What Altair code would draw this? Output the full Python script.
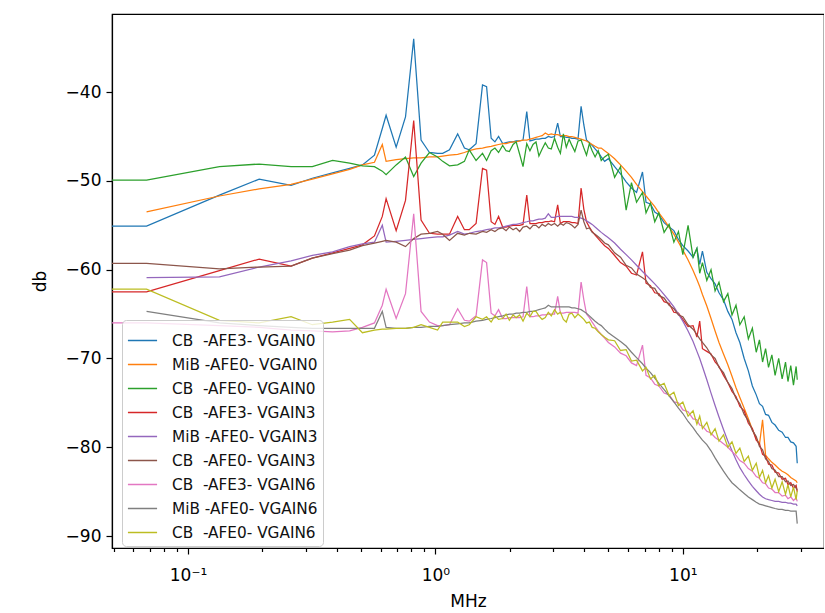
import altair as alt
import pandas as pd

# ---------------- data ----------------
freq_mhz = [
    0.049, 0.068, 0.134, 0.194, 0.261, 0.318, 0.384, 0.45, 0.507, 0.567, 0.61,
    0.632, 0.694, 0.757, 0.817, 0.875, 0.946, 1.02, 1.07, 1.14, 1.23, 1.31,
    1.37, 1.46, 1.55, 1.61, 1.68, 1.74, 1.80, 1.87, 1.93, 1.99,
    2.06, 2.12, 2.19, 2.26, 2.34, 2.41, 2.48, 2.55, 2.62, 2.70,
    2.78, 2.86, 2.94, 3.03, 3.12, 3.20, 3.29, 3.38, 3.47, 3.56,
    3.66, 3.77, 3.88, 3.98, 4.08, 4.19, 4.30, 4.42, 4.55, 4.68, 4.83,
    5.0, 5.3, 5.6, 5.9, 6.2, 6.5, 6.87, 7.1, 7.4, 7.7,
    8.0, 8.4, 8.8, 9.2, 9.6, 10.0, 10.5, 11.0, 11.4, 11.7,
    12.0, 12.5, 13.0, 13.5, 14.0, 14.6, 15.2, 15.8, 16.4, 17.0,
    17.7, 18.4, 19.1, 19.8, 20.4, 21.0, 21.6, 22.2, 22.9, 23.6,
    24.4, 25.2, 26.0, 26.6, 27.3, 28.0, 28.7, 29.0,
]

series_names = [
    "CB\u00a0\u00a0-AFE3- VGAIN0",
    "MiB -AFE0- VGAIN0",
    "CB\u00a0\u00a0-AFE0- VGAIN0",
    "CB\u00a0\u00a0-AFE3- VGAIN3",
    "MiB -AFE0- VGAIN3",
    "CB\u00a0\u00a0-AFE0- VGAIN3",
    "CB\u00a0\u00a0-AFE3- VGAIN6",
    "MiB -AFE0- VGAIN6",
    "CB\u00a0\u00a0-AFE0- VGAIN6",
]

series_colors = ["#1f77b4", "#ff7f0e", "#2ca02c", "#d62728", "#9467bd",
                 "#8c564b", "#e377c2", "#7f7f7f", "#bcbd22"]

db_cb_afe3_vgain0 = [
    -55.1, -55.1, -51.6, -49.8, -50.5, -49.7, -49.1, -48.6, -48.2, -47.1, -44.1,
    -42.6, -46.2, -42.8, -34.0, -45.4, -46.8, -46.9, -46.9, -46.5, -44.7, -46.3,
    -46.5, -45.8, -39.2, -39.4, -45.2, -45.6, -45.0, -45.8, -45.7, -45.6,
    -45.6, -45.5, -45.5, -45.4, -42.2, -45.5, -45.4, -45.3, -45.3, -45.2,
    -45.2, -45.0, -45.1, -45.0, -43.5, -45.0, -45.0, -45.1, -45.1, -45.2,
    -45.2, -45.3, -41.6, -43.7, -45.4, -45.7, -46.0, -46.4, -46.8, -47.3, -47.8,
    -47.5, -48.4, -49.2, -50.1, -50.8, -51.3, -49.0, -52.4, -52.6, -53.5,
    -53.8, -54.7, -55.2, -55.6, -56.6, -57.3, -57.9, -58.6, -57.6, -59.4,
    -57.9, -60.3, -61.0, -61.6, -62.6, -63.4, -64.7, -65.6, -67.1, -68.2,
    -70.0, -71.4, -73.1, -74.1, -75.1, -75.4, -76.3, -76.4, -77.2, -77.5,
    -78.1, -78.3, -78.9, -78.9, -79.4, -79.5, -79.9, -81.8,
]

db_mib_afe0_vgain0 = [
    None, -53.5, -51.7, -50.9, -50.4, -49.8, -49.2, -48.7, -48.2, -47.9, -45.9,
    -47.8, -47.6, -47.5, -47.4, -47.4, -47.3, -47.3, -47.2, -47.1, -47.0, -46.8,
    -46.6, -46.4, -46.3, -46.2, -46.1, -46.0, -45.9, -45.8, -45.8, -45.7,
    -45.6, -45.6, -45.5, -45.4, -45.4, -45.3, -45.2, -45.1, -45.0, -44.9,
    -44.6, -44.8, -44.7, -44.8, -44.8, -44.9, -44.9, -44.9, -45.0, -45.0,
    -45.1, -45.2, -45.3, -45.4, -45.5, -45.7, -45.9, -46.1, -46.3, -46.3, -46.6,
    -46.9, -47.5, -48.2, -48.9, -49.6, -50.4, -51.2, -51.7, -52.3, -52.9,
    -53.6, -54.4, -55.2, -56.0, -56.9, -57.8, -58.9, -60.1, -61.1, -61.9,
    -62.8, -64.1, -65.5, -66.9, -68.2, -69.5, -70.7, -72.0, -73.3, -74.4,
    -75.6, -76.8, -78.0, -79.0, -79.7, -76.9, -80.9, -81.3, -81.7, -82.0,
    -82.4, -82.7, -82.9, -83.1, -83.4, -83.6, -83.8, -84.0,
]

db_cb_afe0_vgain0 = [
    -49.9, -49.9, -48.4, -48.1, -48.4, -48.4, -47.7, -48.0, -48.3, -48.4, -48.9,
    -49.3, -48.2, -47.3, -49.5, -48.0, -46.8, -47.3, -47.8, -48.3, -48.2, -47.8,
    -46.5, -47.7, -46.9, -47.7, -46.6, -46.3, -46.8, -46.0, -46.6, -46.7,
    -45.9, -45.6, -47.0, -48.4, -45.8, -46.6, -45.9, -45.6, -47.2, -46.4,
    -45.7, -46.3, -46.4, -45.2, -46.2, -46.9, -44.7, -46.2, -45.3, -46.0,
    -46.7, -45.5, -45.4, -46.3, -47.1, -45.8, -46.6, -47.3, -46.6, -47.7, -47.3,
    -47.0, -49.6, -48.4, -53.3, -50.2, -52.4, -51.3, -53.6, -52.5, -54.6,
    -53.6, -55.8, -54.9, -56.9, -55.7, -58.3, -55.0, -58.6, -57.6, -60.4,
    -59.2, -61.2, -60.0, -62.4, -61.4, -63.6, -62.7, -65.1, -64.0, -66.2,
    -65.3, -67.8, -66.6, -69.3, -67.9, -70.4, -68.9, -71.0, -69.6, -71.9,
    -70.0, -72.3, -70.4, -72.6, -70.8, -73.0, -70.9, -72.4,
]

db_cb_afe3_vgain3 = [
    -62.5, -62.5, -60.1, -58.8, -59.6, -58.7, -58.1, -57.6, -57.2, -56.2, -54.0,
    -52.0, -55.6, -52.2, -43.2, -54.4, -55.9, -56.0, -56.0, -56.0, -54.0, -55.5,
    -55.5, -54.8, -48.6, -48.8, -54.6, -54.9, -54.0, -55.2, -55.2, -55.1,
    -55.0, -55.0, -55.0, -54.9, -51.6, -54.8, -54.8, -54.8, -54.7, -54.7,
    -54.6, -54.6, -54.5, -54.6, -52.7, -54.8, -54.6, -54.6, -54.6, -54.7,
    -54.7, -54.8, -50.8, -53.2, -54.6, -55.2, -55.7, -56.1, -56.5, -56.9, -57.3,
    -57.6, -58.4, -59.2, -59.6, -60.4, -60.6, -58.0, -61.5, -61.8, -62.6,
    -62.7, -63.6, -63.8, -64.8, -64.9, -65.6, -66.4, -66.3, -67.6, -65.8,
    -68.9, -69.2, -69.5, -70.4, -70.9, -71.9, -72.7, -73.7, -74.3, -75.4,
    -75.9, -77.3, -77.9, -79.2, -79.6, -80.8, -81.0, -81.9, -82.0, -82.8,
    -82.9, -83.6, -83.5, -84.2, -84.0, -84.6, -84.3, -85.0,
]

db_mib_afe0_vgain3 = [
    None, -60.9, -60.8, -59.7, -59.0, -58.4, -58.0, -57.4, -57.1, -56.9, -55.0,
    -56.9, -56.8, -56.7, -56.6, -56.5, -56.4, -56.3, -56.3, -56.1, -55.7, -56.0,
    -55.9, -55.7, -55.6, -55.5, -55.4, -55.3, -55.3, -55.2, -55.1, -55.0,
    -54.9, -54.9, -54.8, -54.7, -54.6, -54.5, -54.5, -54.4, -54.3, -54.3,
    -54.2, -53.7, -54.1, -54.1, -54.0, -54.0, -54.0, -54.0, -54.0, -54.0,
    -54.1, -54.1, -54.2, -54.3, -54.5, -54.7, -54.9, -55.2, -55.5, -55.8, -56.1,
    -56.4, -57.0, -57.7, -58.3, -58.9, -59.5, -60.2, -60.6, -61.1, -61.6,
    -62.1, -62.8, -63.5, -64.2, -65.0, -65.8, -66.9, -68.1, -69.2, -70.0,
    -70.9, -72.4, -73.9, -75.3, -76.6, -78.0, -79.3, -80.4, -81.4, -82.3,
    -83.1, -83.8, -84.4, -84.9, -85.3, -85.6, -85.8, -85.9, -86.0, -86.1,
    -86.1, -86.2, -86.2, -86.3, -86.3, -86.4, -86.4, -86.6,
]

db_cb_afe0_vgain3 = [
    -59.3, -59.3, -59.9, -59.7, -59.6, -58.7, -58.2, -57.8, -57.3, -57.0, -56.8,
    -56.7, -56.9, -57.4, -56.5, -56.0, -55.9, -55.7, -56.0, -56.7, -55.9, -56.1,
    -55.9, -56.0, -55.7, -55.8, -55.5, -55.7, -55.4, -55.3, -55.6, -55.2,
    -55.5, -55.3, -55.7, -55.2, -55.1, -55.4, -55.0, -55.0, -55.3, -54.9,
    -55.1, -54.8, -55.0, -54.8, -55.1, -54.8, -55.0, -54.7, -54.8, -55.0,
    -55.3, -54.9, -53.3, -54.6, -55.4, -55.3, -55.8, -56.0, -56.3, -56.6, -57.0,
    -57.2, -58.1, -58.6, -59.5, -59.8, -60.5, -60.9, -61.2, -62.0, -62.1,
    -62.9, -63.2, -64.0, -64.4, -65.1, -65.3, -66.2, -66.7, -67.3, -67.8,
    -68.2, -68.8, -69.6, -70.0, -71.0, -71.6, -72.7, -73.4, -74.5, -75.1,
    -76.3, -77.0, -78.1, -78.8, -79.9, -80.3, -81.3, -81.6, -82.4, -82.6,
    -83.3, -83.3, -83.9, -83.8, -84.3, -84.2, -84.6, -84.8,
]

db_cb_afe3_vgain6 = [
    -66.0, -66.0, -66.3, -66.5, -66.8, -66.9, -67.0, -66.9, -66.5, -66.0, -64.0,
    -62.2, -65.5, -62.7, -53.7, -64.7, -65.9, -66.3, -66.3, -66.2, -64.4, -65.7,
    -65.8, -65.2, -58.9, -59.2, -64.9, -65.2, -64.5, -65.5, -65.5, -65.4,
    -65.4, -65.4, -65.4, -65.3, -61.9, -65.3, -65.3, -65.2, -65.2, -65.1,
    -65.1, -65.0, -65.0, -65.0, -63.0, -64.9, -64.9, -64.8, -64.8, -64.8,
    -64.8, -64.9, -61.4, -63.4, -65.0, -65.4, -65.9, -66.4, -66.9, -67.3, -67.7,
    -68.2, -68.7, -69.4, -69.7, -70.5, -70.8, -68.5, -71.9, -72.2, -72.9,
    -73.1, -73.9, -74.1, -74.9, -75.0, -75.8, -76.0, -76.8, -76.9, -77.5,
    -77.6, -78.2, -78.4, -78.9, -79.2, -79.6, -80.0, -80.5, -80.9, -81.5,
    -81.8, -82.4, -82.7, -83.3, -83.5, -84.0, -84.1, -84.6, -84.7, -85.1,
    -85.1, -85.5, -85.4, -85.8, -85.6, -86.0, -85.7, -86.1,
]

db_mib_afe0_vgain6 = [
    None, -64.7, -66.0, -66.3, -66.5, -66.6, -66.6, -66.6, -66.6, -66.6, -64.7,
    -66.5, -66.6, -66.6, -66.5, -66.5, -66.4, -66.4, -66.3, -66.2, -66.1, -66.0,
    -66.0, -65.8, -65.7, -65.6, -65.5, -65.4, -65.3, -65.2, -65.1, -65.0,
    -65.0, -64.9, -64.9, -64.8, -64.8, -64.7, -64.7, -64.6, -64.5, -64.4,
    -64.3, -64.0, -64.2, -64.2, -64.2, -64.2, -64.2, -64.2, -64.2, -64.3,
    -64.3, -64.4, -64.5, -64.7, -64.9, -65.2, -65.5, -65.8, -66.1, -66.3, -66.7,
    -67.1, -67.6, -68.1, -68.6, -69.3, -69.9, -70.6, -71.1, -71.6, -72.2,
    -72.8, -73.5, -74.2, -74.9, -75.6, -76.2, -77.1, -77.8, -78.4, -78.8,
    -79.2, -79.7, -80.4, -81.2, -81.9, -82.7, -83.4, -84.0, -84.4, -84.8,
    -85.2, -85.6, -85.9, -86.2, -86.4, -86.5, -86.6, -86.7, -86.8, -86.9,
    -87.0, -87.0, -87.1, -87.1, -87.2, -87.2, -87.2, -88.6,
]

db_cb_afe0_vgain6 = [
    -62.2, -62.2, -65.7, -66.0, -65.3, -66.2, -65.9, -65.6, -67.1, -66.8, -66.7,
    -66.7, -66.6, -66.6, -66.5, -66.2, -66.5, -66.8, -65.9, -65.9, -65.9, -66.4,
    -66.2, -65.3, -65.6, -65.3, -65.9, -65.2, -65.6, -65.5, -65.0, -65.7,
    -65.1, -65.4, -65.1, -65.8, -64.9, -65.3, -64.7, -64.7, -65.2, -65.6,
    -65.4, -64.8, -65.2, -64.5, -65.0, -64.8, -65.6, -65.9, -65.0, -64.9,
    -65.4, -65.0, -65.3, -65.6, -66.0, -65.9, -66.5, -66.6, -67.0, -67.3, -67.6,
    -67.9, -68.0, -69.1, -69.0, -70.3, -70.2, -71.4, -71.0, -72.3, -71.9,
    -73.1, -72.8, -74.2, -73.8, -75.3, -74.9, -76.5, -75.9, -77.4, -76.5,
    -77.9, -77.2, -78.6, -77.9, -79.3, -78.6, -80.0, -79.4, -80.7, -80.1,
    -81.6, -81.0, -82.6, -81.8, -83.4, -82.6, -84.0, -83.2, -84.6, -83.6,
    -85.0, -83.9, -85.3, -84.2, -85.6, -84.5, -85.9, -84.9,
]

series_values = [
    db_cb_afe3_vgain0, db_mib_afe0_vgain0, db_cb_afe0_vgain0,
    db_cb_afe3_vgain3, db_mib_afe0_vgain3, db_cb_afe0_vgain3,
    db_cb_afe3_vgain6, db_mib_afe0_vgain6, db_cb_afe0_vgain6,
]

major_ticks = [0.1, 1, 10]
minor_ticks = [0.05, 0.06, 0.07, 0.08, 0.09, 0.2, 0.3, 0.4, 0.5, 0.6, 0.7,
               0.8, 0.9, 2, 3, 4, 5, 6, 7, 8, 9, 20, 30]
y_ticks = [-90, -80, -70, -60, -50, -40]

# ---------------- build table ----------------
rows = []
for order, (name, vals) in enumerate(zip(series_names, series_values)):
    assert len(vals) == len(freq_mhz), name
    for f, v in zip(freq_mhz, vals):
        if v is not None:
            rows.append({"MHz": f, "db": v, "series": name, "k": order})
df = pd.DataFrame(rows)

FONT = "DejaVu Sans"
tick_vals = sorted(major_ticks + minor_ticks)
label_expr = ("datum.value == 0.1 ? '10\u207b\u00b9' : (datum.value == 1 ? '10\u2070' : "
              "(datum.value == 10 ? '10\u00b9' : ''))")
is_major = "datum.value == 0.1 || datum.value == 1 || datum.value == 10"

chart = alt.Chart(df).mark_line(strokeWidth=1.25, clip=True).encode(
    x=alt.X("MHz:Q",
            scale=alt.Scale(type="log", domain=[0.0493, 37.2], nice=False, zero=False),
            axis=alt.Axis(values=tick_vals, labelExpr=label_expr, title="MHz",
                          grid=False, labelOverlap=False, labelFlush=False,
                          tickSize={"condition": {"test": is_major, "value": 6}, "value": 3.5},
                          labelPadding=13, titlePadding=10)),
    y=alt.Y("db:Q",
            scale=alt.Scale(domain=[-91.35, -31.2], nice=False, zero=False),
            axis=alt.Axis(values=y_ticks, format="d", title="db", grid=False,
                          tickSize=6, labelPadding=5, titlePadding=16)),
    color=alt.Color("series:N",
                    scale=alt.Scale(domain=series_names, range=series_colors),
                    sort=series_names,
                    legend=alt.Legend(title=None, orient="none", legendX=10, legendY=306,
                                      symbolType="stroke", symbolSize=850,
                                      symbolStrokeWidth=1.5, labelFontSize=15.3,
                                      labelFont=FONT, labelColor="#111111",
                                      labelOffset=14, labelLimit=0,
                                      fillColor="rgba(255,255,255,0.8)",
                                      strokeColor="#cccccc", cornerRadius=4,
                                      padding=5, rowPadding=0)),
    order=alt.Order("MHz:Q"),
).properties(
    width=712, height=534,
    autosize=alt.AutoSizeParams(type="none"),
    padding={"left": 112, "top": 14, "right": 0, "bottom": 65},
).configure_view(
    stroke="black", strokeWidth=1.2
).configure_axis(
    labelFont=FONT, labelFontSize=17, labelColor="black",
    titleFont=FONT, titleFontSize=17, titleFontWeight="normal", titleColor="black",
    domainColor="black", domainWidth=1.2, tickColor="black", tickWidth=1.2,
)

chart.save("out.html", embed_options={"renderer": "svg", "actions": False})
